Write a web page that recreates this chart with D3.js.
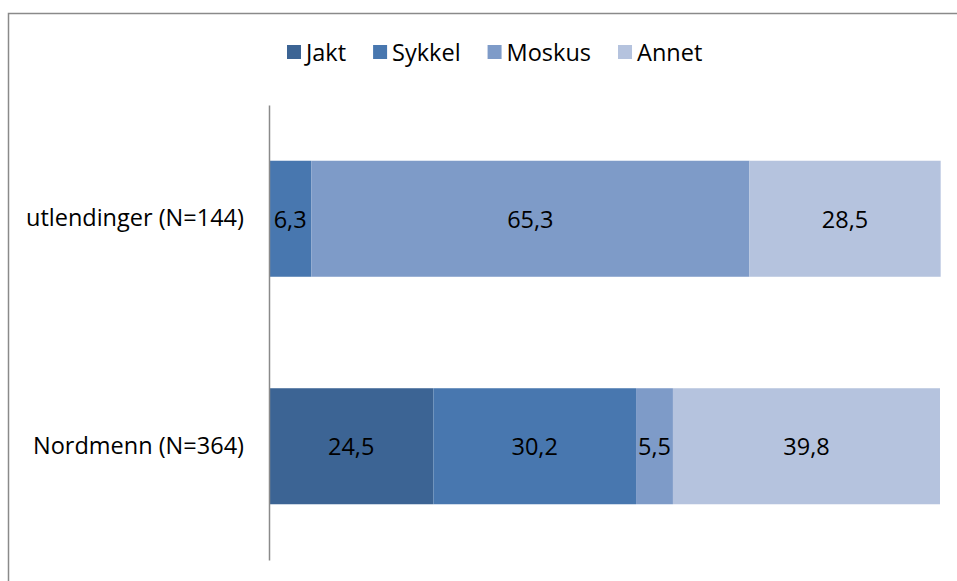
<!DOCTYPE html>
<html>
<head>
<meta charset="utf-8">
<script src="https://cdn.jsdelivr.net/npm/d3@7"></script>
<style>
  body { margin: 0; background: #fff; }
  svg { display: block; font-family: "Open Sans", sans-serif; }
</style>
</head>
<body>
<svg width="957" height="581"></svg>
<script>
// data
var groups = ["utlendinger (N=144)", "Nordmenn (N=364)"];
var seriesNames = ["Jakt", "Sykkel", "Moskus", "Annet"];
var jakt   = [0, 24.5];
var sykkel = [6.3, 30.2];
var moskus = [65.3, 5.5];
var annet  = [28.5, 39.8];
var colors = ["#3c6494", "#4877af", "#7e9bc8", "#b5c3de"];

var fontSize = "23.5px";
var svg = d3.select("svg");

// outer frame (cropped on right/bottom like the reference)
svg.append("rect")
  .attr("x", 8.5).attr("y", 13.5)
  .attr("width", 1000).attr("height", 1000)
  .attr("fill", "none")
  .attr("stroke", "#8a8a8a")
  .attr("stroke-width", 1.5);

var table = groups.map(function(g, i) {
  return { group: g, Jakt: jakt[i], Sykkel: sykkel[i], Moskus: moskus[i], Annet: annet[i] };
});

var stack = d3.stack().keys(seriesNames);
var layers = stack(table);

var xScale = d3.scaleLinear().domain([0, 100]).range([269, 940]);
var yScale = d3.scaleBand().domain(groups).range([105, 560])
  .paddingInner(0.49).paddingOuter(0.245);

var fmt = function(v) { return d3.format(".1f")(v).replace(".", ","); };

var layer = svg.selectAll("g.layer")
  .data(layers)
  .enter()
  .append("g")
  .attr("class", "layer")
  .attr("fill", function(d, i) { return colors[i]; });

layer.selectAll("rect")
  .data(function(d) { return d; })
  .enter()
  .append("rect")
  .attr("x", function(d) { return xScale(d[0]); })
  .attr("y", function(d) { return yScale(d.data.group); })
  .attr("width", function(d) { return xScale(d[1]) - xScale(d[0]); })
  .attr("height", yScale.bandwidth());

// value labels
layer.selectAll("text")
  .data(function(d) { return d.filter(function(p) { return p[1] - p[0] > 0; }); })
  .enter()
  .append("text")
  .attr("x", function(d) { return (xScale(d[0]) + xScale(d[1])) / 2; })
  .attr("y", function(d) { return yScale(d.data.group) + yScale.bandwidth() / 2; })
  .attr("text-anchor", "middle")
  .attr("dominant-baseline", "central")
  .attr("fill", "#000")
  .style("font-size", fontSize)
  .text(function(d) { return fmt(d[1] - d[0]); });

// y axis
var yAxis = d3.axisLeft(yScale).tickSize(0).tickPadding(25);
var ax = svg.append("g")
  .attr("transform", "translate(269,0)")
  .call(yAxis);
ax.select(".domain").attr("stroke", "#8a8a8a").attr("stroke-width", 1.5);
ax.selectAll("text")
  .style("font-size", fontSize)
  .style("font-family", "'Open Sans', sans-serif")
  .attr("fill", "#000");

// legend
var legend = svg.append("g").attr("class", "legend");
var lx = 287;
seriesNames.forEach(function(name, i) {
  var item = legend.append("g").attr("transform", "translate(" + lx + ",45)");
  item.append("rect")
    .attr("width", 14).attr("height", 14)
    .attr("fill", colors[i]);
  var t = item.append("text")
    .attr("x", 19).attr("y", 7)
    .attr("dominant-baseline", "central")
    .style("font-size", fontSize)
    .text(name);
  lx += 19 + t.node().getComputedTextLength() + 27;
});
</script>
</body>
</html>
